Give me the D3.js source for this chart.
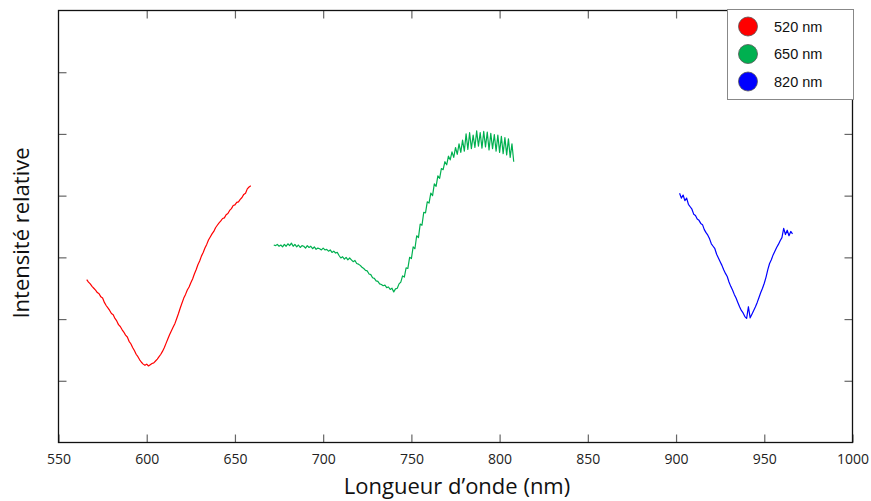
<!DOCTYPE html>
<html>
<head>
<meta charset="utf-8">
<script src="https://d3js.org/d3.v7.min.js"></script>
<style>
	body { margin: 0; background: #fff; }
	#drawingboard { width: 871px; height: 501px; }
</style>
</head>
<body>
<div id="drawingboard"></div>
<script>
// x ticks (nm), y ticks (unlabelled)
var xTicks = [550, 600, 650, 700, 750, 800, 850, 900, 950, 1000];
var yTicks = [1, 2, 3, 4, 5, 6];

var legendLabels = ['520 nm', '650 nm', '820 nm'];
var colors = ['#ff0000', '#00b050', '#0000ff'];

// spectra, one value per nm
var redStart = 566;
var redValues = [2.64, 2.60, 2.57, 2.53, 2.50, 2.47, 2.43, 2.41, 2.36, 2.34,
	2.27, 2.22, 2.18, 2.14, 2.09, 2.07, 2.01, 1.97, 1.91, 1.88,
	1.83, 1.79, 1.74, 1.71, 1.64, 1.60, 1.54, 1.49, 1.43, 1.39,
	1.34, 1.30, 1.27, 1.25, 1.27, 1.24, 1.26, 1.28, 1.29, 1.32,
	1.35, 1.39, 1.43, 1.48, 1.54, 1.61, 1.68, 1.75, 1.81, 1.87,
	1.93, 2.01, 2.09, 2.18, 2.26, 2.34, 2.40, 2.47, 2.52, 2.59,
	2.65, 2.73, 2.80, 2.88, 2.94, 3.02, 3.08, 3.15, 3.21, 3.28,
	3.33, 3.38, 3.42, 3.48, 3.52, 3.56, 3.59, 3.63, 3.64, 3.69,
	3.71, 3.76, 3.79, 3.84, 3.85, 3.89, 3.90, 3.94, 3.97, 4.02,
	4.04, 4.11, 4.14, 4.16];

var greenStart = 672;
var greenValues = [3.20, 3.19, 3.21, 3.18, 3.20, 3.17, 3.21, 3.18, 3.22, 3.19,
	3.23, 3.18, 3.21, 3.17, 3.20, 3.16, 3.19, 3.18, 3.15, 3.19,
	3.16, 3.18, 3.14, 3.17, 3.13, 3.15, 3.14, 3.12, 3.15, 3.12,
	3.13, 3.10, 3.12, 3.08, 3.10, 3.07, 3.08, 3.03, 2.99, 3.01,
	2.97, 3.00, 2.96, 2.99, 2.96, 2.93, 2.95, 2.90, 2.89, 2.87,
	2.84, 2.82, 2.79, 2.78, 2.73, 2.72, 2.67, 2.66, 2.62, 2.61,
	2.57, 2.56, 2.54, 2.55, 2.51, 2.52, 2.48, 2.50, 2.44, 2.49,
	2.50, 2.57, 2.60, 2.70, 2.68, 2.83, 2.82, 3.00, 2.98, 3.17,
	3.14, 3.35, 3.32, 3.54, 3.52, 3.73, 3.72, 3.90, 3.88, 4.04,
	4.00, 4.19, 4.15, 4.32, 4.28, 4.44, 4.42, 4.55, 4.50, 4.64,
	4.58, 4.71, 4.62, 4.78, 4.67, 4.84, 4.70, 4.90, 4.72, 5.00,
	4.75, 5.02, 4.76, 4.98, 4.78, 5.05, 4.80, 5.02, 4.77, 5.04,
	4.79, 5.03, 4.74, 5.01, 4.76, 4.99, 4.72, 4.98, 4.70, 4.96,
	4.68, 4.94, 4.66, 4.92, 4.62, 4.84, 4.55];

var blueStart = 902;
var blueValues = [4.04, 3.96, 4.01, 3.92, 3.96, 3.86, 3.82, 3.78, 3.70, 3.68,
	3.62, 3.60, 3.55, 3.53, 3.45, 3.40, 3.36, 3.30, 3.22, 3.18,
	3.14, 3.05, 2.99, 2.93, 2.87, 2.80, 2.74, 2.69, 2.60, 2.53,
	2.47, 2.40, 2.34, 2.27, 2.20, 2.14, 2.10, 2.04, 2.01, 2.20,
	2.02, 2.08, 2.14, 2.20, 2.27, 2.35, 2.43, 2.50, 2.58, 2.68,
	2.80, 2.90, 2.96, 3.04, 3.10, 3.16, 3.21, 3.27, 3.32, 3.47,
	3.37, 3.44, 3.35, 3.42, 3.38];

var series = [
	{start: redStart, values: redValues},
	{start: greenStart, values: greenValues},
	{start: blueStart, values: blueValues}
];

var id = 'drawingboard';
var width = 871, height = 501;
var plotLeft = 58.5, plotRight = 852.5, plotTop = 10.5, plotBottom = 442.5;

var svg = d3.select('#' + id)
	.append('svg')
	.attr('width', width)
	.attr('height', height)
	.attr('id', id + '_svg');

var x = d3.scaleLinear().domain([550, 1000]).range([plotLeft, plotRight]);
var y = d3.scaleLinear().domain([0, 7]).range([plotBottom, plotTop]);

// inward ticks on all four sides
var tickLen = 8;
var tickColor = '#666';

function styleTicks(g) {
	g.select('.domain').remove();
	g.selectAll('line').attr('stroke', tickColor).attr('stroke-width', 1.2);
}

svg.append('g')
	.attr('transform', 'translate(0,' + plotBottom + ')')
	.call(d3.axisBottom(x).tickValues(xTicks).tickSizeInner(-tickLen).tickSizeOuter(0).tickPadding(12).tickFormat(d3.format('d')))
	.call(styleTicks)
	.call(function(g) {
		g.selectAll('text')
			.style('font-family', 'Open Sans, sans-serif')
			.style('font-size', '14px')
			.style('fill', '#222');
	});

svg.append('g')
	.attr('transform', 'translate(0,' + plotTop + ')')
	.call(d3.axisTop(x).tickValues(xTicks.slice(1, -1)).tickSizeInner(-tickLen).tickSizeOuter(0).tickFormat(''))
	.call(styleTicks);

svg.append('g')
	.attr('transform', 'translate(' + plotLeft + ',0)')
	.call(d3.axisLeft(y).tickValues(yTicks).tickSizeInner(-tickLen).tickSizeOuter(0).tickFormat(''))
	.call(styleTicks);

svg.append('g')
	.attr('transform', 'translate(' + plotRight + ',0)')
	.call(d3.axisRight(y).tickValues(yTicks).tickSizeInner(-tickLen).tickSizeOuter(0).tickFormat(''))
	.call(styleTicks);

// frame
svg.append('rect')
	.attr('x', plotLeft)
	.attr('y', plotTop)
	.attr('width', plotRight - plotLeft)
	.attr('height', plotBottom - plotTop)
	.style('fill', 'none')
	.style('stroke', '#111')
	.style('stroke-width', 1.3);

// spectra
series.forEach(function(s, k) {
	var line = d3.line()
		.x(function(d, i) { return x(s.start + i); })
		.y(function(d) { return y(d); });
	svg.append('path')
		.datum(s.values)
		.attr('d', line)
		.style('fill', 'none')
		.style('stroke', colors[k])
		.style('stroke-width', 1.2)
		.style('stroke-linejoin', 'round');
});

// axis titles
svg.append('text')
	.attr('x', 457)
	.attr('y', 494)
	.attr('text-anchor', 'middle')
	.style('font-family', 'Open Sans, sans-serif')
	.style('font-size', '22px')
	.style('fill', '#111')
	.text('Longueur d\u2019onde (nm)');

svg.append('text')
	.attr('transform', 'translate(29,233) rotate(-90)')
	.attr('text-anchor', 'middle')
	.style('font-family', 'Open Sans, sans-serif')
	.style('font-size', '22px')
	.style('fill', '#111')
	.text('Intensité relative');

// legend
var legend = svg.append('g');
legend.append('rect')
	.attr('x', 727.5)
	.attr('y', 9.5)
	.attr('width', 126)
	.attr('height', 90)
	.style('fill', '#fff')
	.style('stroke', '#888')
	.style('stroke-width', 1);

var items = legend.selectAll('.item')
	.data(legendLabels)
	.enter().append('g')
	.attr('class', 'item')
	.attr('transform', function(d, i) { return 'translate(748,' + (26.5 + i * 27.5) + ')'; });

items.append('circle')
	.attr('r', 9.5)
	.style('fill', function(d, i) { return colors[i]; })
	.style('stroke', '#555')
	.style('stroke-width', 0.8);

items.append('text')
	.attr('x', 26)
	.attr('y', 5)
	.style('font-family', 'Liberation Sans, Arial, sans-serif')
	.style('font-size', '14.5px')
	.style('fill', '#111')
	.text(function(d) { return d; });
</script>
</body>
</html>
